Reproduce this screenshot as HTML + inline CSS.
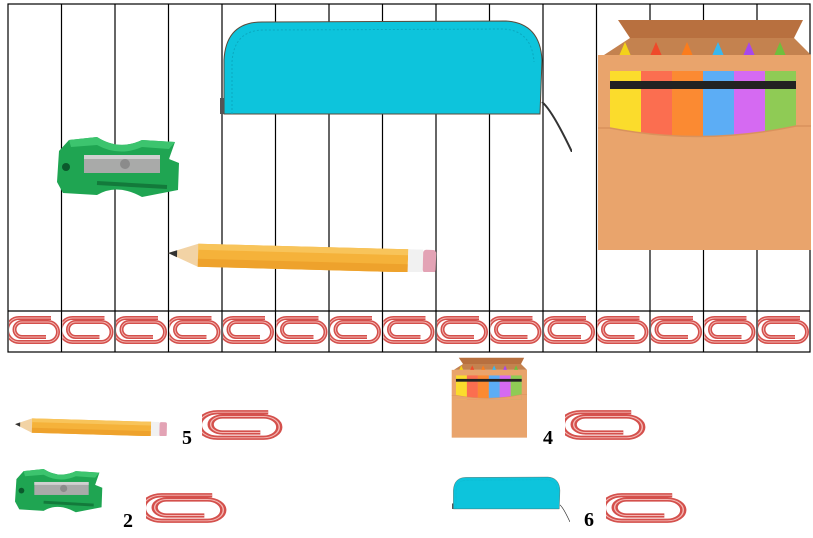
<!DOCTYPE html>
<html><head><meta charset="utf-8"><style>
html,body{margin:0;padding:0;background:#fff;width:813px;height:538px;overflow:hidden}
svg{display:block}
text{font-family:"Liberation Serif",serif;font-weight:bold;font-size:20px;fill:#000}
</style></head><body>
<svg width="813" height="538" viewBox="0 0 813 538" xmlns="http://www.w3.org/2000/svg">
<defs>
<symbol id="clip" viewBox="0 0 52 30" preserveAspectRatio="none">
 <path d="M42 3 L10 3 A12 12 0 0 0 10 27 L39 27 A10 10 0 0 0 39 7 L13 7 A7 7 0 0 0 13 22 L37 22" fill="none" stroke="#d4504c" stroke-width="4"/>
 <path d="M42 3 L10 3 A12 12 0 0 0 10 27 L39 27 A10 10 0 0 0 39 7 L13 7 A7 7 0 0 0 13 22 L37 22" fill="none" stroke="#f4b8b4" stroke-width="0.9"/>
</symbol>
<symbol id="pencil" viewBox="0 0 270 32" preserveAspectRatio="none">
 <g transform="rotate(1.5 0 16)">
 <polygon points="0,13 30,3 30,26" fill="#f2d3a5"/>
 <polygon points="0,13 9,10 9,17" fill="#333"/>
 <rect x="30" y="3" width="210" height="23" fill="#f5b23a"/>
 <rect x="30" y="3" width="210" height="6" fill="#f8c45a"/>
 <rect x="30" y="18" width="210" height="8" fill="#eea22c"/>
 <rect x="240" y="3" width="15" height="23" fill="#f1f1f1"/>
 <rect x="255" y="3" width="13" height="23" rx="3" fill="#e3a3b5"/>
 </g>
</symbol>
<symbol id="sharp" viewBox="0 0 123 61" preserveAspectRatio="none">
 <path d="M12 3 L40 0 Q62 14 85 3 L118 5 L112 22 L122 26 L121 53 L85 60 Q60 46 40 58 L6 56 L0 45 L2 14 Z" fill="#1fa552"/>
 <path d="M12 3 L40 0 Q62 14 85 3 L118 5 L112 12 L85 10 Q62 20 40 8 L14 10 Z" fill="#3cc46e"/>
 <rect x="27" y="18" width="76" height="18" fill="#a9aaa9"/>
 <rect x="27" y="18" width="76" height="4" fill="#d0d0d0"/>
 <circle cx="68" cy="27" r="5" fill="#8b8b8b"/>
 <circle cx="9" cy="30" r="4" fill="#0b5a2c"/>
 <path d="M40 46 L110 50" stroke="#137a3b" stroke-width="4"/>
</symbol>
<symbol id="case" viewBox="0 0 352 134" preserveAspectRatio="none">
 <path d="M4 96 L4 42 Q6 4 42 4 L286 3 Q320 5 322 42 L320 96 Z" fill="#0dc4dc" stroke="#5a4a3a" stroke-width="1"/>
 <path d="M12 96 L12 44 Q14 12 44 12 L284 11 Q312 13 314 44" fill="none" stroke="#0aa9c0" stroke-width="1" stroke-dasharray="2 2"/>
 <rect x="0" y="80" width="4" height="16" fill="#555"/>
 <path d="M322 84 Q332 92 352 134" stroke="#333" stroke-width="2" fill="none"/>
</symbol>
<symbol id="box" viewBox="0 0 215 233" preserveAspectRatio="none">
 <polygon points="22,2 207,2 198,20 34,20" fill="#b8703f"/>
 <polygon points="8,37 34,20 198,20 215,37" fill="#c4824f"/>
 <polygon points="29,24 20,45 38,45" fill="#f3d21a"/>
 <polygon points="60,24 51,45 69,45" fill="#ef4a2a"/>
 <polygon points="91,24 82,45 100,45" fill="#fb7c1c"/>
 <polygon points="122,24 113,45 131,45" fill="#39b7ee"/>
 <polygon points="153,24 144,45 162,45" fill="#a848ec"/>
 <polygon points="184,24 175,45 193,45" fill="#6fbf3c"/>
 <rect x="2" y="37" width="213" height="195" fill="#e9a46c"/>
 <rect x="14" y="53" width="31" height="70" fill="#fbdc2c"/>
 <rect x="45" y="53" width="31" height="70" fill="#fb6e50"/>
 <rect x="76" y="53" width="31" height="70" fill="#fb8a32"/>
 <rect x="107" y="53" width="31" height="70" fill="#5cadf5"/>
 <rect x="138" y="53" width="31" height="70" fill="#d56af2"/>
 <rect x="169" y="53" width="31" height="70" fill="#8fcb55"/>
 <rect x="14" y="63" width="186" height="8" fill="#222"/>
 <path d="M14 110 Q107 128 200 108 L200 123 L14 123 Z" fill="#e9a46c"/>
 <path d="M2 110 L14 110 Q107 128 200 108 L215 108" fill="none" stroke="#d9925c" stroke-width="1.5"/>
</symbol>
</defs>

<g stroke="#000" stroke-width="1.2" fill="none">
 <rect x="8" y="4" width="802" height="348"/>
 <line x1="8" y1="311" x2="810" y2="311"/>
 <line x1="61.5" y1="4" x2="61.5" y2="352"/>
 <line x1="115" y1="4" x2="115" y2="352"/>
 <line x1="168.5" y1="4" x2="168.5" y2="352"/>
 <line x1="222" y1="4" x2="222" y2="352"/>
 <line x1="275.5" y1="4" x2="275.5" y2="352"/>
 <line x1="329" y1="4" x2="329" y2="352"/>
 <line x1="382.5" y1="4" x2="382.5" y2="352"/>
 <line x1="436" y1="4" x2="436" y2="352"/>
 <line x1="489.5" y1="4" x2="489.5" y2="352"/>
 <line x1="543" y1="4" x2="543" y2="352"/>
 <line x1="596.5" y1="4" x2="596.5" y2="352"/>
 <line x1="650" y1="4" x2="650" y2="352"/>
 <line x1="703.5" y1="4" x2="703.5" y2="352"/>
 <line x1="757" y1="4" x2="757" y2="352"/>
</g>
<g>
 <use href="#clip" x="9" y="315" width="52" height="30"/>
 <use href="#clip" x="62.5" y="315" width="52" height="30"/>
 <use href="#clip" x="116" y="315" width="52" height="30"/>
 <use href="#clip" x="169.5" y="315" width="52" height="30"/>
 <use href="#clip" x="223" y="315" width="52" height="30"/>
 <use href="#clip" x="276.5" y="315" width="52" height="30"/>
 <use href="#clip" x="330" y="315" width="52" height="30"/>
 <use href="#clip" x="383.5" y="315" width="52" height="30"/>
 <use href="#clip" x="437" y="315" width="52" height="30"/>
 <use href="#clip" x="490.5" y="315" width="52" height="30"/>
 <use href="#clip" x="544" y="315" width="52" height="30"/>
 <use href="#clip" x="597.5" y="315" width="52" height="30"/>
 <use href="#clip" x="651" y="315" width="52" height="30"/>
 <use href="#clip" x="704.5" y="315" width="52" height="30"/>
 <use href="#clip" x="758" y="315" width="52" height="30"/>
</g>

<use href="#case" x="220" y="18" width="352" height="134"/>
<use href="#box" x="596" y="18" width="215" height="233"/>
<use href="#sharp" x="57" y="137" width="123" height="61"/>
<use href="#pencil" x="168" y="240" width="270" height="32"/>

<use href="#pencil" x="15" y="416" width="153" height="20"/>
<text x="182" y="444">5</text>
<use href="#clip" x="202" y="409" width="82" height="32"/>

<use href="#sharp" x="15" y="469" width="88" height="44"/>
<text x="123" y="527">2</text>
<use href="#clip" x="146" y="492" width="82" height="32"/>

<use href="#box" x="451" y="357" width="76" height="81"/>
<text x="543" y="444">4</text>
<use href="#clip" x="565" y="409" width="82" height="32"/>

<use href="#case" x="452" y="476" width="118" height="46"/>
<text x="584" y="526">6</text>
<use href="#clip" x="606" y="492" width="82" height="32"/>
</svg>
</body></html>
